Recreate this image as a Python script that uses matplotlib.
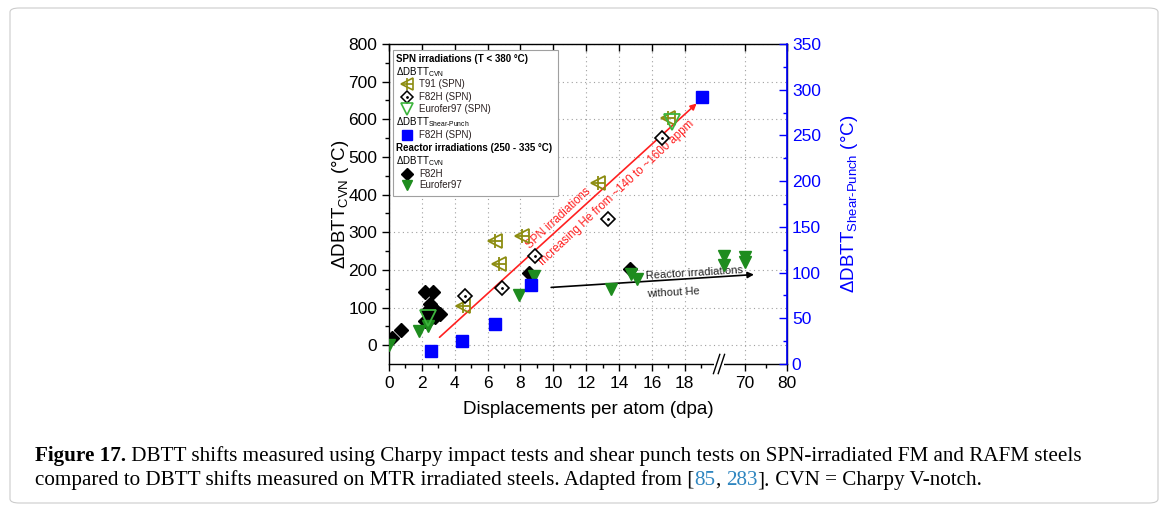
import numpy as np
import matplotlib
matplotlib.use('Agg')
import matplotlib.pyplot as plt
from matplotlib.patches import Rectangle, FancyBboxPatch

plt.rcParams['font.family'] = ['Liberation Sans', 'DejaVu Sans']
plt.rcParams['mathtext.fontset'] = 'custom'
plt.rcParams['mathtext.rm'] = 'Liberation Sans'
plt.rcParams['mathtext.it'] = 'Liberation Sans:italic'
plt.rcParams['mathtext.bf'] = 'Liberation Sans:bold'

# ---- data ----
# SPN irradiations, Charpy (left axis)
t91_x = [4.5, 6.45, 6.7, 8.1, 12.7, 17.0]
t91_y = [104, 278, 216, 290, 431, 604]
f82h_spn_x = [4.6, 6.85, 8.9, 13.3, 16.6]
f82h_spn_y = [130, 152, 237, 334, 551]
euro_spn_x = [2.4, 17.2]
euro_spn_y = [72, 594]
# SPN irradiations, shear punch (right axis)
f82h_sp_x = [2.55, 4.45, 6.45, 8.65, 19.05]
f82h_sp_y = [14, 25, 44, 86, 292]
# reactor irradiations, Charpy (left axis)
f82h_reac_x = [0.2, 0.75, 2.2, 2.65, 2.5, 2.68, 2.3, 2.95, 3.1, 2.8, 2.5, 2.2, 8.5, 14.65]
f82h_reac_y = [20, 40, 142, 142, 109, 100, 90, 87, 82, 74, 69, 64, 192, 202]
euro_reac_x = [0.0, 1.85, 2.35, 7.9, 8.85, 13.5, 14.7, 15.1, 65, 65, 70, 70]
euro_reac_y = [0, 38, 52, 133, 184, 148, 188, 175, 236, 214, 233, 222]

x_major = [0, 2, 4, 6, 8, 10, 12, 14, 16, 18, 70, 80]
x_minor = [1, 3, 5, 7, 9, 11, 13, 15, 17, 19, 75]

# broken x axis: 0-20 then 63.5-80 compressed
BRK_LO, BRK_HI, R = 20.0, 63.5, 0.256

def fwd(x):
    x = np.asarray(x, dtype=float)
    return np.where(x <= BRK_LO, x,
                    np.where(x >= BRK_HI, BRK_LO + (x - BRK_HI) * R, BRK_LO))

def inv(u):
    u = np.asarray(u, dtype=float)
    return np.where(u <= BRK_LO, u, BRK_HI + (u - BRK_LO) / R)

fig = plt.figure(figsize=(11.68, 5.11), dpi=100)
fig.patches.append(FancyBboxPatch((10 / 1168, 8 / 511), 1148 / 1168, 495 / 511,
                                  boxstyle='round,pad=0,rounding_size=0.008',
                                  transform=fig.transFigure, fc='none',
                                  ec='#cccccc', lw=0.8))

ax = fig.add_axes([389 / 1168, 1 - 364 / 511, 398 / 1168, 320 / 511])
ax.set_xscale('function', functions=(fwd, inv))
ax.set_xlim(0, 80)
ax.set_ylim(-50, 800)
ax.set_xticks(x_major)
ax.set_xticklabels([str(v) for v in x_major])
ax.set_xticks(x_minor, minor=True)
ax.set_yticks(np.arange(0, 801, 100))
ax.set_yticks(np.arange(50, 800, 100), minor=True)
ax.tick_params(axis='both', which='major', direction='out', length=5, width=1,
               labelsize=12.5)
ax.tick_params(axis='both', which='minor', direction='out', length=3, width=1)
ax.grid(True, which='major', ls=(0, (1, 3)), color='#a0a0a0', lw=0.8)
for s in ax.spines.values():
    s.set_linewidth(1.0)

# top ticks pointing inward
ax.plot(x_major, [1] * len(x_major), transform=ax.get_xaxis_transform(),
        marker=3, ms=5, mew=1, ls='none', color='k', clip_on=False)

# reactor + SPN charpy data
ax.plot(f82h_reac_x, f82h_reac_y, 'D', color='k', ms=7, ls='none', zorder=3)
ax.plot(euro_reac_x, euro_reac_y, 'v', color='#1e8c1e', ms=8, ls='none', zorder=4)
ax.plot(t91_x, t91_y, '<', mfc='none', mec='#8c8c10', mew=1.3, ms=10, ls='none', zorder=4)
ax.plot(t91_x, t91_y, '+', color='#8c8c10', mew=1.3, ms=10, ls='none', zorder=4)
ax.plot(f82h_spn_x, f82h_spn_y, 'D', mfc='white', mec='k', mew=1.2, ms=7, ls='none', zorder=4)
ax.plot(f82h_spn_x, f82h_spn_y, '.', color='k', ms=2, ls='none', zorder=5)
ax.plot(euro_spn_x, euro_spn_y, 'v', mfc='none', mec='#3cb43c', mew=1.3, ms=11, ls='none', zorder=5)

# arrows and notes
ax.annotate('', xy=(18.85, 647), xytext=(2.95, 16),
            arrowprops=dict(arrowstyle='-|>', color='#ff2020', lw=1.2, mutation_scale=9),
            zorder=2)
ax.text(8.47, 262, 'SPN irradiations', color='#ff2020', fontsize=8.3, rotation=43,
        rotation_mode='anchor', ha='left', va='center')
ax.text(9.26, 217, 'Increasing He from ~140 to ~1600 appm', color='#ff2020',
        fontsize=8.3, rotation=43, rotation_mode='anchor', ha='left', va='center')
ax.annotate('', xy=(72.8, 188), xytext=(9.7, 153),
            arrowprops=dict(arrowstyle='-|>', color='k', lw=1.2, mutation_scale=9),
            zorder=2)
ax.text(15.65, 183, 'Reactor irradiations', color='#222222', fontsize=8, rotation=3.5,
        rotation_mode='anchor', ha='left', va='center')
ax.text(15.7, 136, 'without He', color='#222222', fontsize=8, rotation=3,
        rotation_mode='anchor', ha='left', va='center')

ax.set_xlabel('Displacements per atom (dpa)', fontsize=13.5, labelpad=7)
ax.set_ylabel('ΔDBTT$_{\\mathrm{CVN}}$ (°C)', fontsize=13.5, labelpad=-2)

# right axis
ax2 = ax.twinx()
ax2.set_ylim(0, 350)
ax2.set_yticks(np.arange(0, 351, 50))
ax2.set_yticks(np.arange(25, 350, 50), minor=True)
ax2.tick_params(axis='y', which='major', direction='in', length=6, width=1,
                colors='blue', labelsize=12.5)
ax2.tick_params(axis='y', which='minor', direction='in', length=3, width=1, colors='blue')
for k in ['left', 'top', 'bottom']:
    ax2.spines[k].set_visible(False)
ax2.spines['right'].set_color('blue')
ax2.spines['right'].set_linewidth(1.2)
ax2.set_ylabel('ΔDBTT$_{\\mathrm{Shear\\text{-}Punch}}$ (°C)', color='blue',
               fontsize=13.5, labelpad=13)
ax2.plot(f82h_sp_x, f82h_sp_y, 's', color='#0000ff', ms=8, ls='none', zorder=5)

# axis break marks
bx = (719 - 389) / 398
ax2.add_patch(Rectangle((bx - 0.012, -0.02), 0.024, 0.04, transform=ax2.transAxes,
                        fc='white', ec='none', clip_on=False, zorder=10))
for d in (-0.006, 0.006):
    ax2.plot([bx + d - 0.008, bx + d + 0.008], [-0.03, 0.03], color='k', lw=1,
             transform=ax2.transAxes, clip_on=False, zorder=11)

# hand-made legend (header rows flush left)
def fx(px):
    return (px - 389) / 398

def fy(py):
    return (364 - py) / 320

ax2.add_patch(Rectangle((fx(393), fy(196)), fx(558) - fx(393), fy(50) - fy(196),
                        transform=ax2.transAxes, fc='white', ec='#a0a0a0', lw=0.8,
                        zorder=12))
rows = [
    ('h', 'SPN irradiations (T < 380 °C)', None),
    ('s', 'ΔDBTT$_{\\mathrm{CVN}}$', None),
    ('i', 'T91 (SPN)', 't91'),
    ('i', 'F82H (SPN)', 'f82h_spn'),
    ('i', 'Eurofer97 (SPN)', 'euro_spn'),
    ('s', 'ΔDBTT$_{\\mathrm{Shear\\text{-}Punch}}$', None),
    ('i', 'F82H (SPN)', 'sp'),
    ('h', 'Reactor irradiations (250 - 335 °C)', None),
    ('s', 'ΔDBTT$_{\\mathrm{CVN}}$', None),
    ('i', 'F82H', 'f82h_reac'),
    ('i', 'Eurofer97', 'euro_reac'),
]
row_py = [59, 71.7, 84.3, 97, 109.3, 122.3, 135, 148.3, 160.7, 174, 185.3]
styles = {
    't91': [dict(marker='<', mfc='none', mec='#8c8c10', mew=1.2, ms=8),
            dict(marker='+', color='#8c8c10', mew=1.2, ms=8)],
    'f82h_spn': [dict(marker='D', mfc='white', mec='k', mew=1.1, ms=6),
                 dict(marker='.', color='k', ms=2)],
    'euro_spn': [dict(marker='v', mfc='none', mec='#3cb43c', mew=1.2, ms=8)],
    'sp': [dict(marker='s', color='#0000ff', ms=7)],
    'f82h_reac': [dict(marker='D', color='k', ms=6)],
    'euro_reac': [dict(marker='v', color='#1e8c1e', ms=7)],
}
for (kind, label, key), py in zip(rows, row_py):
    if kind == 'h':
        ax2.text(fx(396), fy(py), label, fontsize=7, weight='bold', ha='left',
                 va='center', transform=ax2.transAxes, zorder=13)
    elif kind == 's':
        ax2.text(fx(396), fy(py), label, fontsize=7, ha='left', va='center',
                 transform=ax2.transAxes, zorder=13)
    else:
        for st in styles[key]:
            ax2.plot([fx(406.7)], [fy(py)], ls='none', transform=ax2.transAxes,
                     clip_on=False, zorder=13, **st)
        ax2.text(fx(419.3), fy(py), label, fontsize=7, ha='left', va='center',
                 color='#2a2020', transform=ax2.transAxes, zorder=13)

# caption, placed piece by piece
renderer = fig.canvas.get_renderer()
cap_kw = dict(family='Liberation Serif', fontsize=15.2, va='baseline')

def caption_line(pieces, x0, y):
    x = x0
    for s, extra in pieces:
        t = fig.text(x, y, s, **cap_kw, **extra)
        x += t.get_window_extent(renderer).width / fig.bbox.width

blue = '#2f86c0'
caption_line([('Figure 17.', dict(weight='bold')),
              (' DBTT shifts measured using Charpy impact tests and shear punch tests '
               'on SPN-irradiated FM and RAFM steels', {})],
             35 / 1168, 1 - 461 / 511)
caption_line([('compared to DBTT shifts measured on MTR irradiated steels. Adapted from [', {}),
              ('85', dict(color=blue)), (', ', {}), ('283', dict(color=blue)),
              ('].', {}), (' CVN = Charpy V-notch.', {})],
             35 / 1168, 1 - 485 / 511)

fig.savefig('out.png', dpi=100)
